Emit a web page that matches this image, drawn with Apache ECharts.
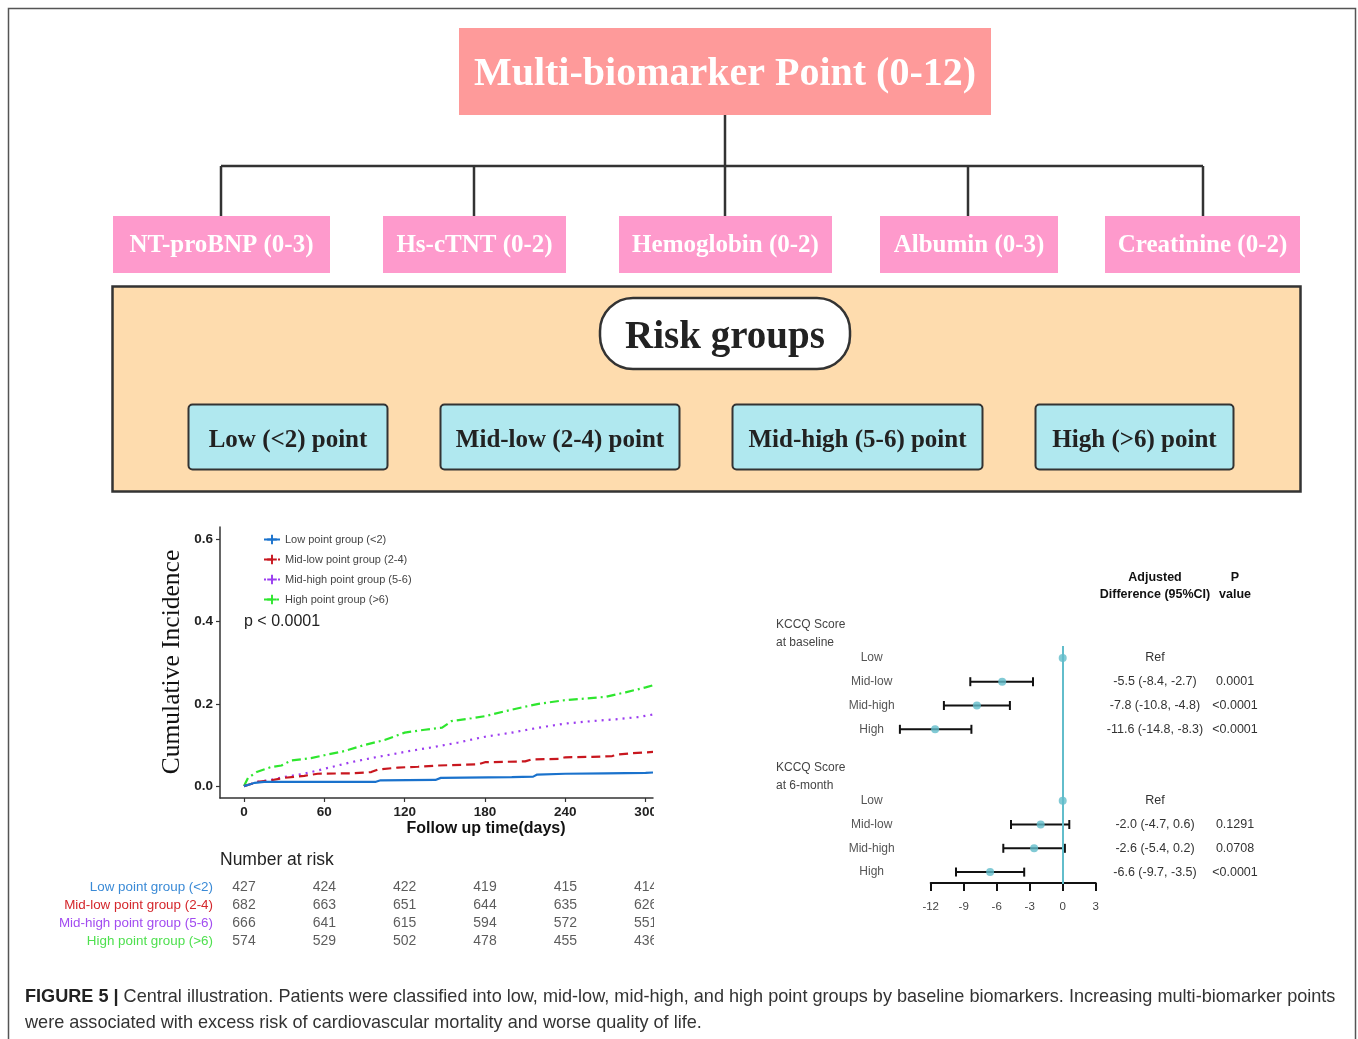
<!DOCTYPE html>
<html>
<head>
<meta charset="utf-8">
<title>Multi-biomarker point – central illustration</title>
<script src="https://cdn.jsdelivr.net/npm/echarts@6/dist/echarts.min.js"></script>
<style>
  html, body { margin: 0; padding: 0; background: #fff; }
  #chart { width: 1358px; height: 1039px; }
</style>
</head>
<body>
<div id="chart"></div>
<script>
// ---------- Scoring scheme ----------
const totalScoreLabel = 'Multi-biomarker Point (0-12)';
const biomarkers = ['NT-proBNP (0-3)', 'Hs-cTNT (0-2)', 'Hemoglobin (0-2)', 'Albumin (0-3)', 'Creatinine (0-2)'];
const riskGroupTitle = 'Risk groups';
const riskGroups = ['Low (<2) point', 'Mid-low (2-4) point', 'Mid-high (5-6) point', 'High (>6) point'];

// ---------- Cumulative incidence (days, incidence) ----------
const kmGroupNames = ['Low point group (<2)', 'Mid-low point group (2-4)', 'Mid-high point group (5-6)', 'High point group (>6)'];
const kmLow = [[0,0],[4,0.004],[8,0.008],[15,0.01],[98,0.01],[102,0.014],[143,0.015],[147,0.02],[200,0.022],[216,0.023],[219,0.028],[240,0.03],[270,0.031],[300,0.032],[305.5,0.033]];
const kmMidLow = [[0,0],[10,0.01],[20,0.014],[30,0.02],[45,0.025],[55,0.03],[80,0.031],[95,0.034],[100,0.04],[115,0.045],[130,0.047],[145,0.05],[165,0.052],[175,0.053],[180,0.058],[195,0.059],[210,0.06],[215,0.065],[235,0.066],[240,0.07],[260,0.071],[275,0.073],[280,0.077],[290,0.08],[305.5,0.083]];
const kmMidHigh = [[0,0],[5,0.005],[10,0.01],[20,0.015],[30,0.022],[45,0.03],[55,0.038],[65,0.046],[80,0.058],[95,0.068],[110,0.077],[125,0.086],[140,0.094],[160,0.106],[180,0.12],[200,0.13],[220,0.142],[240,0.152],[260,0.158],[280,0.163],[295,0.168],[305.5,0.174]];
const kmHigh = [[0,0],[3,0.02],[10,0.035],[20,0.046],[28,0.05],[35,0.062],[50,0.068],[60,0.075],[75,0.085],[90,0.1],[105,0.112],[120,0.13],[135,0.137],[148,0.142],[155,0.158],[170,0.165],[180,0.17],[195,0.182],[210,0.193],[220,0.2],[240,0.209],[255,0.213],[270,0.217],[285,0.228],[300,0.24],[305.5,0.245]];
const kmTicksX = [0, 60, 120, 180, 240, 300];
const kmTicksY = [0, 0.2, 0.4, 0.6];
const pValueText = 'p < 0.0001';

// ---------- Number at risk ----------
const riskDays = [0, 60, 120, 180, 240, 300];
const atRiskLow = [427, 424, 422, 419, 415, 414];
const atRiskMidLow = [682, 663, 651, 644, 635, 626];
const atRiskMidHigh = [666, 641, 615, 594, 572, 551];
const atRiskHigh = [574, 529, 502, 478, 455, 436];

// ---------- KCCQ adjusted differences ----------
const forestGroups = ['Low', 'Mid-low', 'Mid-high', 'High'];
const baselineEst = [0, -5.5, -7.8, -11.6];
const baselineLo  = [null, -8.4, -10.8, -14.8];
const baselineHi  = [null, -2.7, -4.8, -8.3];
const baselineCI  = ['Ref', '-5.5 (-8.4, -2.7)', '-7.8 (-10.8, -4.8)', '-11.6 (-14.8, -8.3)'];
const baselineP   = ['', '0.0001', '<0.0001', '<0.0001'];
const sixMonthEst = [0, -2.0, -2.6, -6.6];
const sixMonthLo  = [null, -4.7, -5.4, -9.7];
const sixMonthHi  = [null, 0.6, 0.2, -3.5];
const sixMonthCI  = ['Ref', '-2.0 (-4.7, 0.6)', '-2.6 (-5.4, 0.2)', '-6.6 (-9.7, -3.5)'];
const sixMonthP   = ['', '0.1291', '0.0708', '<0.0001'];
const forestTicks = [-12, -9, -6, -3, 0, 3];

// ---------- Layout & style ----------
const SERIF = '"Liberation Serif", "Times New Roman", serif';
const SANS = '"Liberation Sans", Arial, Helvetica, sans-serif';
const kmColors = ['#1a72cc', '#c8171f', '#9b3cf0', '#2ee62e'];
const kmDash = ['solid', [9, 5], [2, 5], [9, 4, 2, 4]];
const riskLabelColors = ['#3a8ad6', '#d4262b', '#a24cf0', '#4fe04f'];
const teal = '#62bdcb';

// forest rows: baseline block at 0..3, six-month block at 6..9
const BASE_ROW = 0, SIX_ROW = 6;
const rowLabel = {}, rowCI = {}, rowP = {};
forestGroups.forEach((g, i) => {
  rowLabel[BASE_ROW + i] = g; rowLabel[SIX_ROW + i] = g;
  rowCI[BASE_ROW + i] = baselineCI[i]; rowCI[SIX_ROW + i] = sixMonthCI[i];
  rowP[BASE_ROW + i] = baselineP[i]; rowP[SIX_ROW + i] = sixMonthP[i];
});
const rowValues = Object.keys(rowLabel).map(Number);

const pointData = [], ciData = [];
forestGroups.forEach((g, i) => {
  pointData.push([baselineEst[i], BASE_ROW + i]);
  pointData.push([sixMonthEst[i], SIX_ROW + i]);
  if (baselineLo[i] !== null) ciData.push([baselineLo[i], baselineHi[i], BASE_ROW + i]);
  if (sixMonthLo[i] !== null) ciData.push([sixMonthLo[i], sixMonthHi[i], SIX_ROW + i]);
});

const atRiskRows = [atRiskLow, atRiskMidLow, atRiskMidHigh, atRiskHigh];
const atRiskData = [];
atRiskRows.forEach((row, r) => row.forEach((n, c) => atRiskData.push([riskDays[c], r, n])));

// ---------- Diagram graphics ----------
const graphics = [];
// frame
graphics.push({ type: 'rect', shape: { x: 8.5, y: 8.5, width: 1347, height: 1045 },
  style: { fill: 'none', stroke: '#555', lineWidth: 1.5 }, silent: true });
// top box
graphics.push({ type: 'rect', shape: { x: 459, y: 28, width: 532, height: 87 }, style: { fill: '#fe9a9a' } });
graphics.push({ type: 'text', x: 725, y: 75, style: { text: totalScoreLabel, fill: '#fff', font: 'bold 40px ' + SERIF, align: 'center', verticalAlign: 'middle' } });
// connectors
const bx = [221, 474, 725, 968, 1203];
const lineStyle = { stroke: '#333', lineWidth: 2.5 };
graphics.push({ type: 'line', shape: { x1: 725, y1: 115, x2: 725, y2: 166 }, style: lineStyle });
graphics.push({ type: 'line', shape: { x1: bx[0], y1: 166, x2: bx[4], y2: 166 }, style: lineStyle });
bx.forEach(x => graphics.push({ type: 'line', shape: { x1: x, y1: 166, x2: x, y2: 216 }, style: lineStyle }));
// biomarker boxes
const bmBoxes = [[113, 217], [383, 183], [619, 213], [880, 178], [1105, 195]];
biomarkers.forEach((name, i) => {
  const [x, w] = bmBoxes[i];
  graphics.push({ type: 'rect', shape: { x: x, y: 216, width: w, height: 57 }, style: { fill: '#fe9acc' } });
  graphics.push({ type: 'text', x: x + w / 2, y: 246, style: { text: name, fill: '#fff', font: 'bold 25px ' + SERIF, align: 'center', verticalAlign: 'middle' } });
});
// risk groups panel
graphics.push({ type: 'rect', shape: { x: 112.5, y: 286.5, width: 1188, height: 205 }, style: { fill: '#fedcae', stroke: '#333', lineWidth: 2.5 } });
graphics.push({ type: 'rect', shape: { x: 600, y: 298, width: 250, height: 71, r: 33 }, style: { fill: '#fff', stroke: '#333', lineWidth: 2.5 } });
graphics.push({ type: 'text', x: 725, y: 338, style: { text: riskGroupTitle, fill: '#222', font: 'bold 39px ' + SERIF, align: 'center', verticalAlign: 'middle' } });
const rgBoxes = [[188.5, 199], [440.5, 239], [732.5, 250], [1035.5, 198]];
riskGroups.forEach((name, i) => {
  const [x, w] = rgBoxes[i];
  graphics.push({ type: 'rect', shape: { x: x, y: 404.5, width: w, height: 65, r: 4 }, style: { fill: '#b0e8ef', stroke: '#333', lineWidth: 2 } });
  graphics.push({ type: 'text', x: x + w / 2, y: 441, style: { text: name, fill: '#222', font: 'bold 25px ' + SERIF, align: 'center', verticalAlign: 'middle' } });
});
// survival panel annotations
graphics.push({ type: 'text', x: 172, y: 662, rotation: Math.PI / 2, style: { text: 'Cumulative Incidence', fill: '#111', font: '25.5px ' + SERIF, align: 'center', verticalAlign: 'middle' } });
graphics.push({ type: 'text', x: 486, y: 829, style: { text: 'Follow up time(days)', fill: '#111', font: 'bold 16px ' + SANS, align: 'center', verticalAlign: 'middle' } });
graphics.push({ type: 'text', x: 244, y: 622, style: { text: pValueText, fill: '#222', font: '16px ' + SANS, align: 'left', verticalAlign: 'middle' } });
graphics.push({ type: 'text', x: 220, y: 860, style: { text: 'Number at risk', fill: '#222', font: '17.5px ' + SANS, align: 'left', verticalAlign: 'middle' } });
// the survival panel is cropped on its right edge
graphics.push({ type: 'rect', z: 100, shape: { x: 654, y: 800, width: 90, height: 160 }, style: { fill: '#fff' } });
// forest annotations
const smallBold = 'bold 12.5px ' + SANS;
graphics.push({ type: 'text', x: 1155, y: 578, style: { text: 'Adjusted', fill: '#111', font: smallBold, align: 'center', verticalAlign: 'middle' } });
graphics.push({ type: 'text', x: 1155, y: 595, style: { text: 'Difference (95%CI)', fill: '#111', font: smallBold, align: 'center', verticalAlign: 'middle' } });
graphics.push({ type: 'text', x: 1235, y: 578, style: { text: 'P', fill: '#111', font: smallBold, align: 'center', verticalAlign: 'middle' } });
graphics.push({ type: 'text', x: 1235, y: 595, style: { text: 'value', fill: '#111', font: smallBold, align: 'center', verticalAlign: 'middle' } });
const hdr = '12px ' + SANS;
graphics.push({ type: 'text', x: 776, y: 625, style: { text: 'KCCQ Score', fill: '#444', font: hdr, verticalAlign: 'middle' } });
graphics.push({ type: 'text', x: 776, y: 643, style: { text: 'at baseline', fill: '#444', font: hdr, verticalAlign: 'middle' } });
graphics.push({ type: 'text', x: 776, y: 768, style: { text: 'KCCQ Score', fill: '#444', font: hdr, verticalAlign: 'middle' } });
graphics.push({ type: 'text', x: 776, y: 786, style: { text: 'at 6-month', fill: '#444', font: hdr, verticalAlign: 'middle' } });
// caption
graphics.push({ type: 'text', x: 25, y: 997, style: {
  text: '{b|FIGURE 5 |} Central illustration. Patients were classified into low, mid-low, mid-high, and high point groups by baseline biomarkers. Increasing multi-biomarker points',
  fill: '#333', font: '18.1px ' + SANS, verticalAlign: 'middle',
  rich: { b: { font: 'bold 18.1px ' + SANS, fill: '#222' } } } });
graphics.push({ type: 'text', x: 25, y: 1023, style: {
  text: 'were associated with excess risk of cardiovascular mortality and worse quality of life.',
  fill: '#333', font: '18.1px ' + SANS, verticalAlign: 'middle' } });

// ---------- Axes ----------
const KM_MIN = -17.93, KM_MAX = 305.5;
const hiddenX = (gi, min, max) => ({ gridIndex: gi, type: 'value', min, max, show: false });
const textColumnY = (gi, lookup, color) => ({
  gridIndex: gi, type: 'value', inverse: true, min: -0.5, max: 9.5, position: 'left',
  axisLine: { show: false }, axisTick: { show: false }, splitLine: { show: false },
  axisLabel: { customValues: rowValues, formatter: v => lookup[v], align: 'center', margin: 0,
    fontFamily: SANS, fontSize: 12.5, color: color }
});

const option = {
  animation: false,
  backgroundColor: '#fff',
  graphic: graphics,
  legend: {
    orient: 'vertical', left: 263, top: 534, padding: 0, itemWidth: 16, itemHeight: 12, itemGap: 9,
    data: kmGroupNames,
    textStyle: { fontFamily: SANS, fontSize: 11, color: '#444' }
  },
  grid: [
    { left: 220, top: 527, width: 433, height: 271, outerBoundsMode: 'none' },          // 0 cumulative incidence
    { left: 220, top: 878, width: 433, height: 72, outerBoundsMode: 'none' },           // 1 number at risk
    { left: 897.7, top: 646, width: 198, height: 238, outerBoundsMode: 'none' },        // 2 forest marks
    { left: 930.7, top: 882, width: 165, height: 1, outerBoundsMode: 'none' },          // 3 forest axis
    { left: 1155, top: 646, width: 10, height: 238, outerBoundsMode: 'none' },          // 4 CI column
    { left: 1235, top: 646, width: 10, height: 238, outerBoundsMode: 'none' }           // 5 P column
  ],
  xAxis: [
    { gridIndex: 0, type: 'value', min: KM_MIN, max: KM_MAX, position: 'bottom',
      axisLine: { onZero: false, lineStyle: { color: '#333', width: 1.5 } },
      axisTick: { customValues: kmTicksX, length: 4, lineStyle: { color: '#333', width: 1.2 } },
      axisLabel: { customValues: kmTicksX, margin: 7, fontFamily: SANS, fontWeight: 'bold', fontSize: 13.5, color: '#222' },
      splitLine: { show: false } },
    hiddenX(1, KM_MIN, KM_MAX),
    hiddenX(2, -15, 3),
    { gridIndex: 3, type: 'value', min: -12, max: 3, interval: 3, position: 'bottom',
      axisLine: { onZero: false, lineStyle: { color: '#111', width: 2 } },
      axisTick: { customValues: forestTicks, length: 8, lineStyle: { color: '#111', width: 2 } },
      axisLabel: { customValues: forestTicks, margin: 18, fontFamily: SANS, fontSize: 11.5, color: '#444' },
      splitLine: { show: false } },
    hiddenX(4, 0, 1),
    hiddenX(5, 0, 1)
  ],
  yAxis: [
    { gridIndex: 0, type: 'value', min: -0.029, max: 0.63, position: 'left',
      axisLine: { show: true, onZero: false, lineStyle: { color: '#333', width: 1.5 } },
      axisTick: { show: true, customValues: kmTicksY, length: 4, lineStyle: { color: '#333', width: 1.2 } },
      axisLabel: { customValues: kmTicksY, formatter: v => v.toFixed(1), margin: 7, fontFamily: SANS, fontWeight: 'bold', fontSize: 13.5, color: '#222' },
      splitLine: { show: false } },
    { gridIndex: 1, type: 'category', inverse: true, data: kmGroupNames,
      axisLine: { show: false }, axisTick: { show: false },
      axisLabel: { margin: 7, fontFamily: SANS, fontSize: 13.4, color: (v, i) => riskLabelColors[i] } },
    { gridIndex: 2, type: 'value', inverse: true, min: -0.5, max: 9.5,
      axisLine: { show: false }, axisTick: { show: false }, splitLine: { show: false },
      axisLabel: { customValues: rowValues, formatter: v => rowLabel[v], align: 'center', margin: 26,
        fontFamily: SANS, fontSize: 12, color: '#555' } },
    { gridIndex: 3, type: 'value', show: false },
    textColumnY(4, rowCI, '#333'),
    textColumnY(5, rowP, '#333')
  ],
  series: [
    ...[kmLow, kmMidLow, kmMidHigh, kmHigh].map((d, i) => ({
      name: kmGroupNames[i], type: 'line', xAxisIndex: 0, yAxisIndex: 0, data: d,
      showSymbol: false, symbol: 'path://M4,0H6V4H10V6H6V10H4V6H0V4H4Z', symbolSize: 10,
      color: kmColors[i], lineStyle: { width: 2.2, type: kmDash[i], color: kmColors[i] },
      z: 3 + (3 - i)
    })),
    { type: 'scatter', xAxisIndex: 1, yAxisIndex: 1, data: atRiskData, symbolSize: 0,
      label: { show: true, position: 'inside', formatter: p => p.value[2], fontFamily: SANS, fontSize: 14, color: '#333' } },
    { type: 'custom', xAxisIndex: 2, yAxisIndex: 2, data: ciData, encode: { x: [0, 1], y: 2 },
      renderItem: (params, api) => {
        const a = api.coord([api.value(0), api.value(2)]);
        const b = api.coord([api.value(1), api.value(2)]);
        const st = { stroke: '#111', lineWidth: 2 };
        return { type: 'group', children: [
          { type: 'line', shape: { x1: a[0], y1: a[1], x2: b[0], y2: b[1] }, style: st },
          { type: 'line', shape: { x1: a[0], y1: a[1] - 4.5, x2: a[0], y2: a[1] + 4.5 }, style: st },
          { type: 'line', shape: { x1: b[0], y1: b[1] - 4.5, x2: b[0], y2: b[1] + 4.5 }, style: st }
        ] };
      } },
    { type: 'scatter', xAxisIndex: 2, yAxisIndex: 2, data: pointData, symbolSize: 8, z: 5,
      itemStyle: { color: teal },
      markLine: { silent: true, symbol: 'none', label: { show: false },
        lineStyle: { color: teal, width: 2, type: 'solid' }, data: [{ xAxis: 0 }] } }
  ]
};

const chart = echarts.init(document.getElementById('chart'), null, { renderer: 'canvas' });
chart.setOption(option);
</script>
</body>
</html>
